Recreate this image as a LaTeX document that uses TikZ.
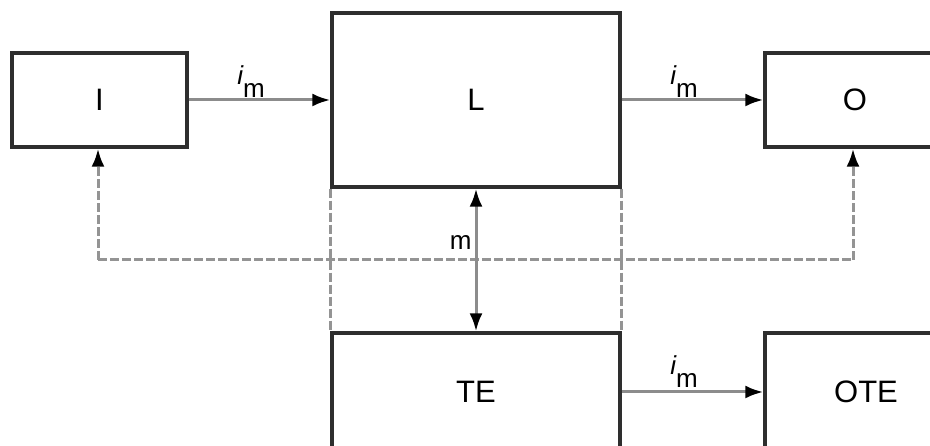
\documentclass[tikz,border=0pt]{standalone}
\usepackage{fontspec}
\setmainfont{Liberation Sans}
\usetikzlibrary{arrows.meta}
\tikzset{
  box/.style={draw=black!82, line width=3.4pt, rectangle, inner sep=0pt, font=\fontsize{31}{32}\selectfont},
  tip/.style={Latex[length=18pt,width=13pt,color=black]},
  flow/.style={draw=black!45, line width=3pt, -{Latex[length=18pt,width=13pt,color=black]}},
  dashln/.style={draw=black!42, line width=3pt, dash pattern=on 9pt off 3pt},
  lbl/.style={inner sep=0pt, font=\fontsize{26}{27}\selectfont},
}
\newcommand{\imlab}{{\itshape i}\kern0pt\raisebox{-0.95ex}{m}}
\begin{document}
\begin{tikzpicture}[x=1pt,y=-1pt]
\useasboundingbox (0,0) rectangle (930,446);
\clip (0,0) rectangle (930,446);
\fill[white] (0,0) rectangle (930,446);
% boxes
\node[box, minimum width=175pt, minimum height=94pt] (I) at (99.5,100) {I};
\node[box, minimum width=288pt, minimum height=174pt] (L) at (476,100) {L};
\node[box, minimum width=180pt, minimum height=94pt] (O) at (855,100) {O};
\node[box, minimum width=288pt, minimum height=118pt] (TE) at (476,392) {TE};
\node[box, minimum width=202pt, minimum height=118pt] (OTE) at (866,392) {OTE};
% dashed links
\coordinate (dl) at (98,260);
\coordinate (dr) at (853,260);
\draw[dashln] (L.south west) -- (TE.north west);
\draw[dashln] (L.south east) -- (TE.north east);
\draw[dashln] (dl) -- (dr);
\draw[dashln, -{Latex[length=18pt,width=13pt,color=black]}] (dl) -- (I.south -| dl);
\draw[dashln, -{Latex[length=18pt,width=13pt,color=black]}] (dr) -- (O.south -| dr);
% flows
\draw[flow] (I.east) -- (L.west) node[lbl, pos=0.44, above=1pt] {\imlab};
\draw[flow] (L.east) -- (O.west) node[lbl, pos=0.44, above=1pt] {\imlab};
\draw[flow] (TE.east) -- (OTE.west) node[lbl, pos=0.44, above=3pt] {\imlab};
% m arrow
\draw[draw=black!45, line width=3pt, {Latex[length=18pt,width=13pt,color=black]}-{Latex[length=18pt,width=13pt,color=black]}] (L.south) -- (TE.north) node[lbl, pos=0.38, left=3pt] {m};
\end{tikzpicture}
\end{document}
